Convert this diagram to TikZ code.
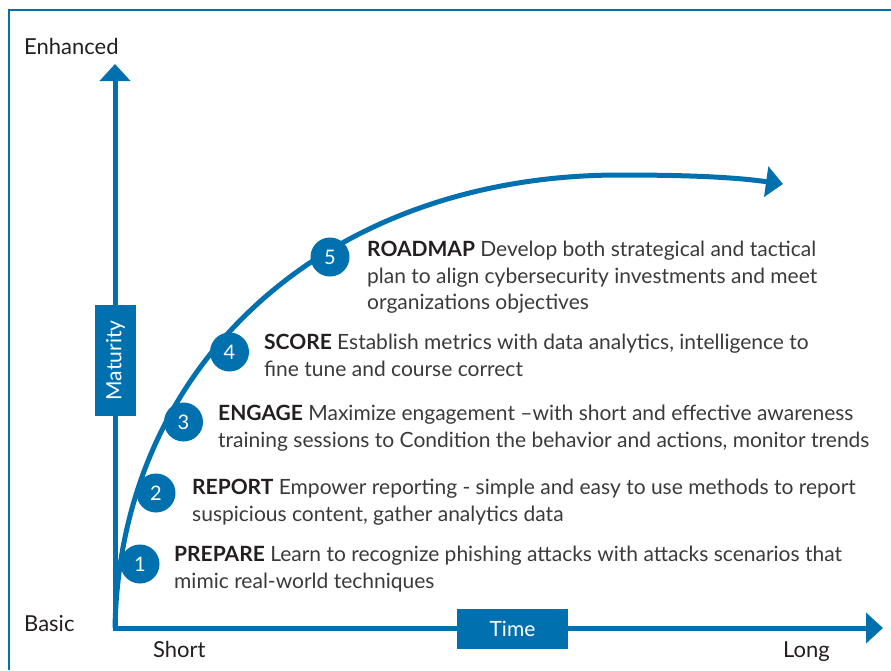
\documentclass[tikz,border=0pt]{standalone}
\usepackage{fontspec}
\setmainfont{Lato}
\usetikzlibrary{arrows.meta}
\definecolor{axisblue}{HTML}{0071AE}
\definecolor{inkdark}{HTML}{231F20}
\definecolor{inkbody}{HTML}{3A3A3A}

\begin{document}
\begin{tikzpicture}[x=1pt,y=-1pt,
    axis/.style={draw=axisblue,line width=5pt,line join=miter},
    axistip/.tip={Triangle[length=17pt,width=30pt]},
    stepdot/.style={circle,fill=axisblue,minimum size=39pt,inner sep=0pt,text=white,font=\fontsize{20}{20}\selectfont},
    steptext/.style={anchor=base west,align=left,inner sep=0pt,text=inkbody,font=\fontsize{21}{26.5}\selectfont},
    tagbox/.style={fill=axisblue,inner sep=0pt,text=white,font=\fontsize{21}{21}\selectfont},
    axislabel/.style={anchor=base west,inner sep=0pt,text=inkdark,font=\fontsize{22}{22}\selectfont}]
    \useasboundingbox (0,0) rectangle (891,670);
    \draw [axisblue,line width=2.5pt] (9,670) -- (9,10) -- (891,10);
    % axes
    \coordinate (origin) at (115,628);
    \coordinate (ytip) at (115,64);
    \coordinate (xtip) at (883,628);
    \draw [axis,axistip-axistip] (ytip) -- (origin) -- (xtip);
    % maturity curve
    \coordinate (bend) at (620,175);
    \coordinate (ctip) at (783,184);
    \draw [axis,-axistip] (origin) .. controls (120,360) and (330,175) .. (bend)
        .. controls (700,175) and (740,178) .. (ctip);
    \node [tagbox,minimum width=111pt,minimum height=41pt,rotate=90] (maturity) at (115.5,360.5) {Maturity};
    \node [tagbox,minimum width=111pt,minimum height=40pt] (time) at (512.5,629) {Time};
    \node [axislabel] (enhanced) at (24,54) {Enhanced};
    \node [axislabel] (basic) at (24,631) {Basic};
    \node [axislabel] (short) at (153,657) {Short};
    \node [axislabel] (long) at (783,657) {Long};
    % steps (text nodes sit on the baseline of their last line)
    \node [stepdot] (s1) at (140,564) {1};
    \node [stepdot] (s2) at (156,493) {2};
    \node [stepdot] (s3) at (183.5,422) {3};
    \node [stepdot] (s4) at (229.5,352) {4};
    \node [stepdot] (s5) at (330,257) {5};
    \node [steptext] (t1) at (174,588) {\textcolor{inkdark}{\textbf{PREPARE}} Learn to recognize phishing attacks with attacks scenarios that\\mimic real-world techniques};
    \node [steptext] (t2) at (192,521) {\textcolor{inkdark}{\textbf{REPORT}} Empower reporting - simple and easy to use methods to report\\suspicious content, gather analytics data};
    \node [steptext] (t3) at (218,447) {\textcolor{inkdark}{\textbf{ENGAGE}} Maximize engagement –with short and effective awareness\\training sessions to Condition the behavior and actions, monitor trends};
    \node [steptext] (t4) at (264,376) {\textcolor{inkdark}{\textbf{SCORE}} Establish metrics with data analytics, intelligence to\\fine tune and course correct};
    \node [steptext] (t5) at (367,309.5) {\textcolor{inkdark}{\textbf{ROADMAP}} Develop both strategical and tactical\\plan to align cybersecurity investments and meet\\organizations objectives};
\end{tikzpicture}
\end{document}
